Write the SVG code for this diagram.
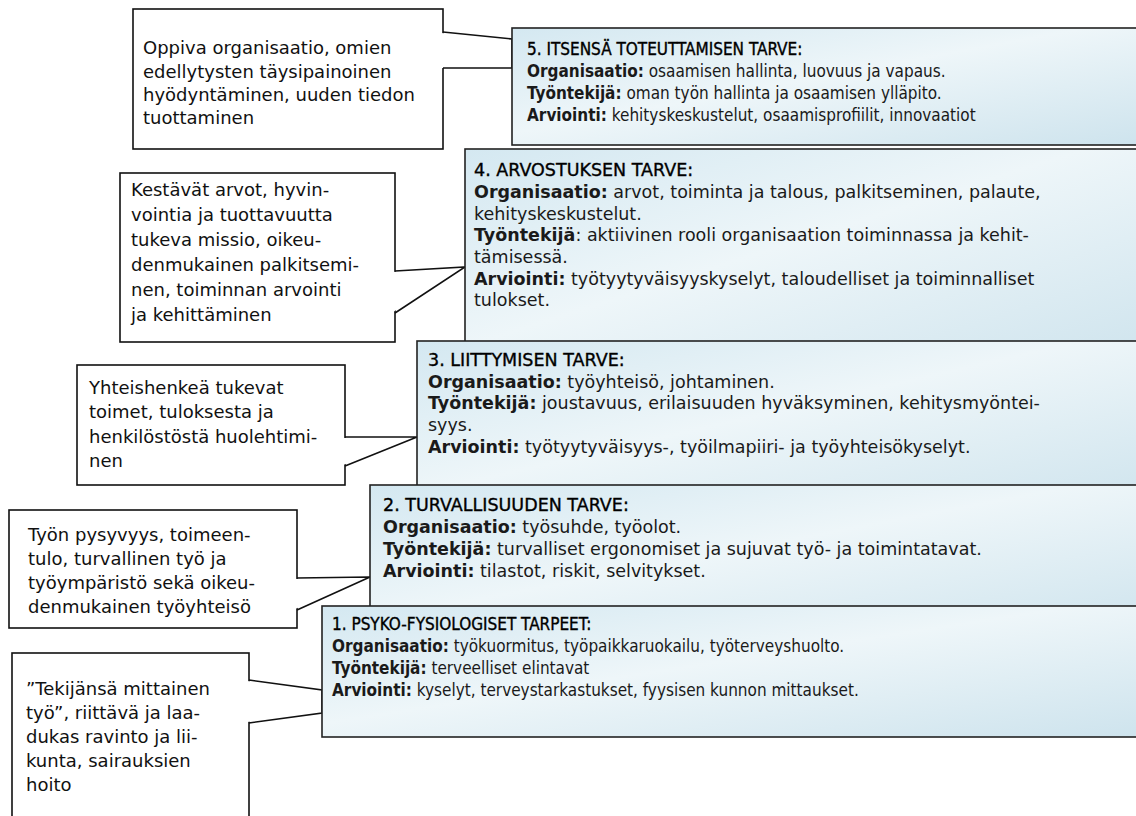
<svg xmlns="http://www.w3.org/2000/svg" width="1136" height="816" viewBox="0 0 1136 816">
<defs>
<linearGradient id="gb" x1="0" y1="0" x2="1" y2="1">
<stop offset="0" stop-color="#d4e8f1"/>
<stop offset="0.45" stop-color="#eef6f9"/>
<stop offset="1" stop-color="#cde3ed"/>
</linearGradient>
<style>
.co{fill:#fff;stroke:#111;stroke-width:1.6}
.pf{fill:#fff;stroke:none}
.ps{fill:none;stroke:#111;stroke-width:1.6;stroke-linejoin:miter}
.bx{fill:url(#gb);stroke:#222;stroke-width:1.6}
.ct{font-family:"DejaVu Sans","Noto Sans",sans-serif;font-size:18px;fill:#111}
.bt{font-family:"DejaVu Sans","Noto Sans",sans-serif;font-size:17.5px;fill:#1a1a1a}
.bs{font-family:"DejaVu Sans Condensed","DejaVu Sans",sans-serif;font-stretch:condensed;font-size:17px;fill:#1a1a1a}
.ti{fill:#000;stroke:#000;stroke-width:0.35}
.b{font-weight:bold}
</style>
</defs>
<rect width="1136" height="816" fill="#fff"/>
<g id="callout5"><rect class="co" x="133" y="9" width="310" height="140"/>
<text class="ct" x="143" y="54">Oppiva organisaatio, omien</text>
<text class="ct" x="143" y="78">edellytysten täysipainoinen</text>
<text class="ct" x="143" y="101">hyödyntäminen, uuden tiedon</text>
<text class="ct" x="143" y="124">tuottaminen</text></g>
<g id="callout4"><rect class="co" x="120" y="173" width="275" height="169"/>
<text class="ct" x="131" y="196">Kestävät arvot, hyvin-</text>
<text class="ct" x="131" y="221">vointia ja tuottavuutta</text>
<text class="ct" x="131" y="246">tukeva missio, oikeu-</text>
<text class="ct" x="131" y="271">denmukainen palkitsemi-</text>
<text class="ct" x="131" y="296">nen, toiminnan arvointi</text>
<text class="ct" x="131" y="321">ja kehittäminen</text></g>
<g id="callout3"><rect class="co" x="77" y="365" width="268" height="120"/>
<text class="ct" x="89" y="394">Yhteishenkeä tukevat</text>
<text class="ct" x="89" y="418">toimet, tuloksesta ja</text>
<text class="ct" x="89" y="443">henkilöstöstä huolehtimi-</text>
<text class="ct" x="89" y="467">nen</text></g>
<g id="callout2"><rect class="co" x="9" y="510" width="288" height="118"/>
<text class="ct" x="28" y="541">Työn pysyvyys, toimeen-</text>
<text class="ct" x="28" y="565">tulo, turvallinen työ ja</text>
<text class="ct" x="28" y="589">työympäristö sekä oikeu-</text>
<text class="ct" x="28" y="613">denmukainen työyhteisö</text></g>
<g id="callout1"><rect class="co" x="12" y="653" width="237" height="200"/>
<text class="ct" x="26" y="695">”Tekijänsä mittainen</text>
<text class="ct" x="26" y="719">työ”, riittävä ja laa-</text>
<text class="ct" x="26" y="743">dukas ravinto ja lii-</text>
<text class="ct" x="26" y="767">kunta, sairauksien</text>
<text class="ct" x="26" y="791">hoito</text></g>
<g id="connectors">
<path class="pf" d="M441,33 L512,39 L512,68 L441,68 Z"/><path class="ps" d="M443,32 L512,39 L512,68 L443,68"/>
<path class="pf" d="M393,272 L465,267 L393,312 Z"/><path class="ps" d="M395,271 L465,267 L395,313"/>
<path class="pf" d="M343,438 L417,437 L343,465 Z"/><path class="ps" d="M345,437 L417,437 L345,466"/>
<path class="pf" d="M295,579 L370,577 L295,609 Z"/><path class="ps" d="M297,578 L370,577 L297,610"/>
<path class="pf" d="M247,681 L322,690 L322,713 L247,722 Z"/><path class="ps" d="M249,680 L322,690 L322,713 L249,723"/>
</g>
<g id="box5"><rect class="bx" x="512" y="28" width="640" height="117"/>
<text class="bs ti" x="527" y="55">5. ITSENSÄ TOTEUTTAMISEN TARVE:</text>
<text class="bs" x="527" y="77"><tspan class="b">Organisaatio:</tspan> osaamisen hallinta, luovuus ja vapaus.</text>
<text class="bs" x="527" y="99"><tspan class="b">Työntekijä:</tspan> oman työn hallinta ja osaamisen ylläpito.</text>
<text class="bs" x="527" y="121"><tspan class="b">Arviointi:</tspan> kehityskeskustelut, osaamisprofiilit, innovaatiot</text></g>
<g id="box4"><rect class="bx" x="465" y="149" width="690" height="220"/>
<text class="bt ti" x="474" y="176">4. ARVOSTUKSEN TARVE:</text>
<text class="bt" x="474" y="198"><tspan class="b">Organisaatio:</tspan> arvot, toiminta ja talous, palkitseminen, palaute,</text>
<text class="bt" x="474" y="220">kehityskeskustelut.</text>
<text class="bt" x="474" y="241"><tspan class="b">Työntekijä</tspan>: aktiivinen rooli organisaation toiminnassa ja kehit-</text>
<text class="bt" x="474" y="263">tämisessä.</text>
<text class="bt" x="474" y="285"><tspan class="b">Arviointi:</tspan> työtyytyväisyyskyselyt, taloudelliset ja toiminnalliset</text>
<text class="bt" x="474" y="306">tulokset.</text></g>
<g id="box3"><rect class="bx" x="417" y="341" width="740" height="170"/>
<text class="bt ti" x="428" y="366">3. LIITTYMISEN TARVE:</text>
<text class="bt" x="428" y="388"><tspan class="b">Organisaatio:</tspan> työyhteisö, johtaminen.</text>
<text class="bt" x="428" y="409"><tspan class="b">Työntekijä:</tspan> joustavuus, erilaisuuden hyväksyminen, kehitysmyöntei-</text>
<text class="bt" x="428" y="431">syys.</text>
<text class="bt" x="428" y="453"><tspan class="b">Arviointi:</tspan> työtyytyväisyys-, työilmapiiri- ja työyhteisökyselyt.</text></g>
<g id="box2"><rect class="bx" x="370" y="485" width="790" height="150"/>
<text class="bt ti" x="383" y="511">2. TURVALLISUUDEN TARVE:</text>
<text class="bt" x="383" y="533"><tspan class="b">Organisaatio:</tspan> työsuhde, työolot.</text>
<text class="bt" x="383" y="555"><tspan class="b">Työntekijä:</tspan> turvalliset ergonomiset ja sujuvat työ- ja toimintatavat.</text>
<text class="bt" x="383" y="577"><tspan class="b">Arviointi:</tspan> tilastot, riskit, selvitykset.</text></g>
<g id="box1"><rect class="bx" x="322" y="606" width="840" height="131"/>
<text class="bs ti" x="332" y="630">1. PSYKO-FYSIOLOGISET TARPEET:</text>
<text class="bs" x="332" y="652"><tspan class="b">Organisaatio:</tspan> työkuormitus, työpaikkaruokailu, työterveyshuolto.</text>
<text class="bs" x="332" y="674"><tspan class="b">Työntekijä:</tspan> terveelliset elintavat</text>
<text class="bs" x="332" y="696"><tspan class="b">Arviointi:</tspan> kyselyt, terveystarkastukset, fyysisen kunnon mittaukset.</text></g>
</svg>
